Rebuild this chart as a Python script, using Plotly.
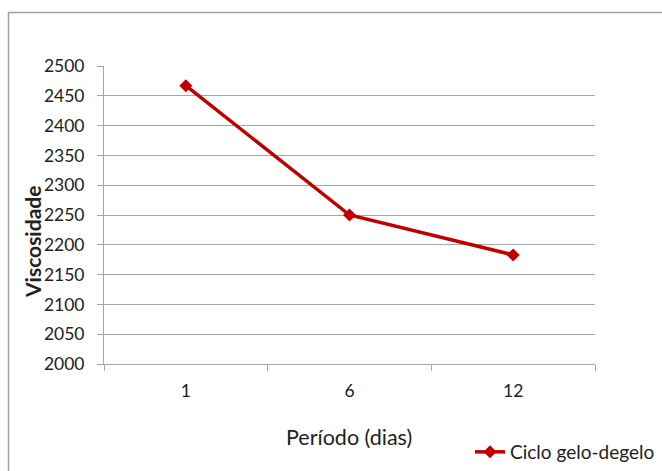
import plotly.graph_objects as go

# Viscosity measured over the freeze-thaw cycle
periodos = ["1", "6", "12"]
viscosidade = [2467, 2250, 2183]
serie_nome = "Ciclo gelo-degelo"
y_ticks = list(range(2000, 2501, 50))

W, H = 662, 471
L, R, T, B = 104, 67, 66, 107
pw, ph = W - L - R, H - T - B

def px_x(x):
    return (x - L) / pw

def px_y(y):
    return (H - B - y) / ph

grid = "#a6a6a6"
txt = "#222222"
font_main = "Lato, 'Open Sans', sans-serif"

fig = go.Figure()
fig.add_trace(go.Scatter(
    x=periodos, y=viscosidade, mode="lines+markers", name=serie_nome,
    line=dict(color="#c00000", width=3.5),
    marker=dict(symbol="diamond", size=10, color="#c00000"),
))

fig.update_layout(
    width=W, height=H,
    margin=dict(l=L, r=R, t=T, b=B, autoexpand=False),
    paper_bgcolor="white", plot_bgcolor="white",
    font=dict(family=font_main, size=17, color=txt),
    showlegend=True,
    legend=dict(x=px_x(470), y=px_y(452), xanchor="left", yanchor="middle",
                font=dict(size=19, color=txt), bgcolor="rgba(0,0,0,0)",
                itemwidth=30, tracegroupgap=0),
    xaxis=dict(
        type="category", showgrid=False, showline=True, linecolor=grid, linewidth=1,
        ticks="outside", tickson="boundaries", ticklen=6, tickcolor=grid,
        tickfont=dict(size=17.5), ticklabelstandoff=11, automargin=False,
        range=[-0.5, 2.5], fixedrange=True,
    ),
    yaxis=dict(
        range=[2000, 2500], tickvals=y_ticks, showgrid=True, gridcolor=grid, gridwidth=1,
        showline=True, linecolor=grid, linewidth=1, zeroline=False,
        ticks="outside", ticklen=6, tickcolor=grid, tickfont=dict(size=17.5),
        ticklabelstandoff=9, automargin=False,
    ),
    annotations=[
        dict(text="<b>Viscosidade</b>", textangle=-90, showarrow=False,
             xref="paper", yref="paper", x=px_x(32), y=px_y(242),
             xanchor="center", yanchor="middle", font=dict(size=21, color=txt)),
        dict(text="Período (dias)", showarrow=False,
             xref="paper", yref="paper", x=px_x(349), y=px_y(437),
             xanchor="center", yanchor="middle", font=dict(size=21.5, color=txt)),
    ],
    shapes=[dict(
        type="rect", xref="paper", yref="paper",
        x0=px_x(8.5), x1=px_x(700), y0=px_y(520), y1=px_y(12.5),
        line=dict(color="#a0a0a0", width=1.5), fillcolor="rgba(0,0,0,0)", layer="below",
    )],
)

fig.write_html("out.html")
